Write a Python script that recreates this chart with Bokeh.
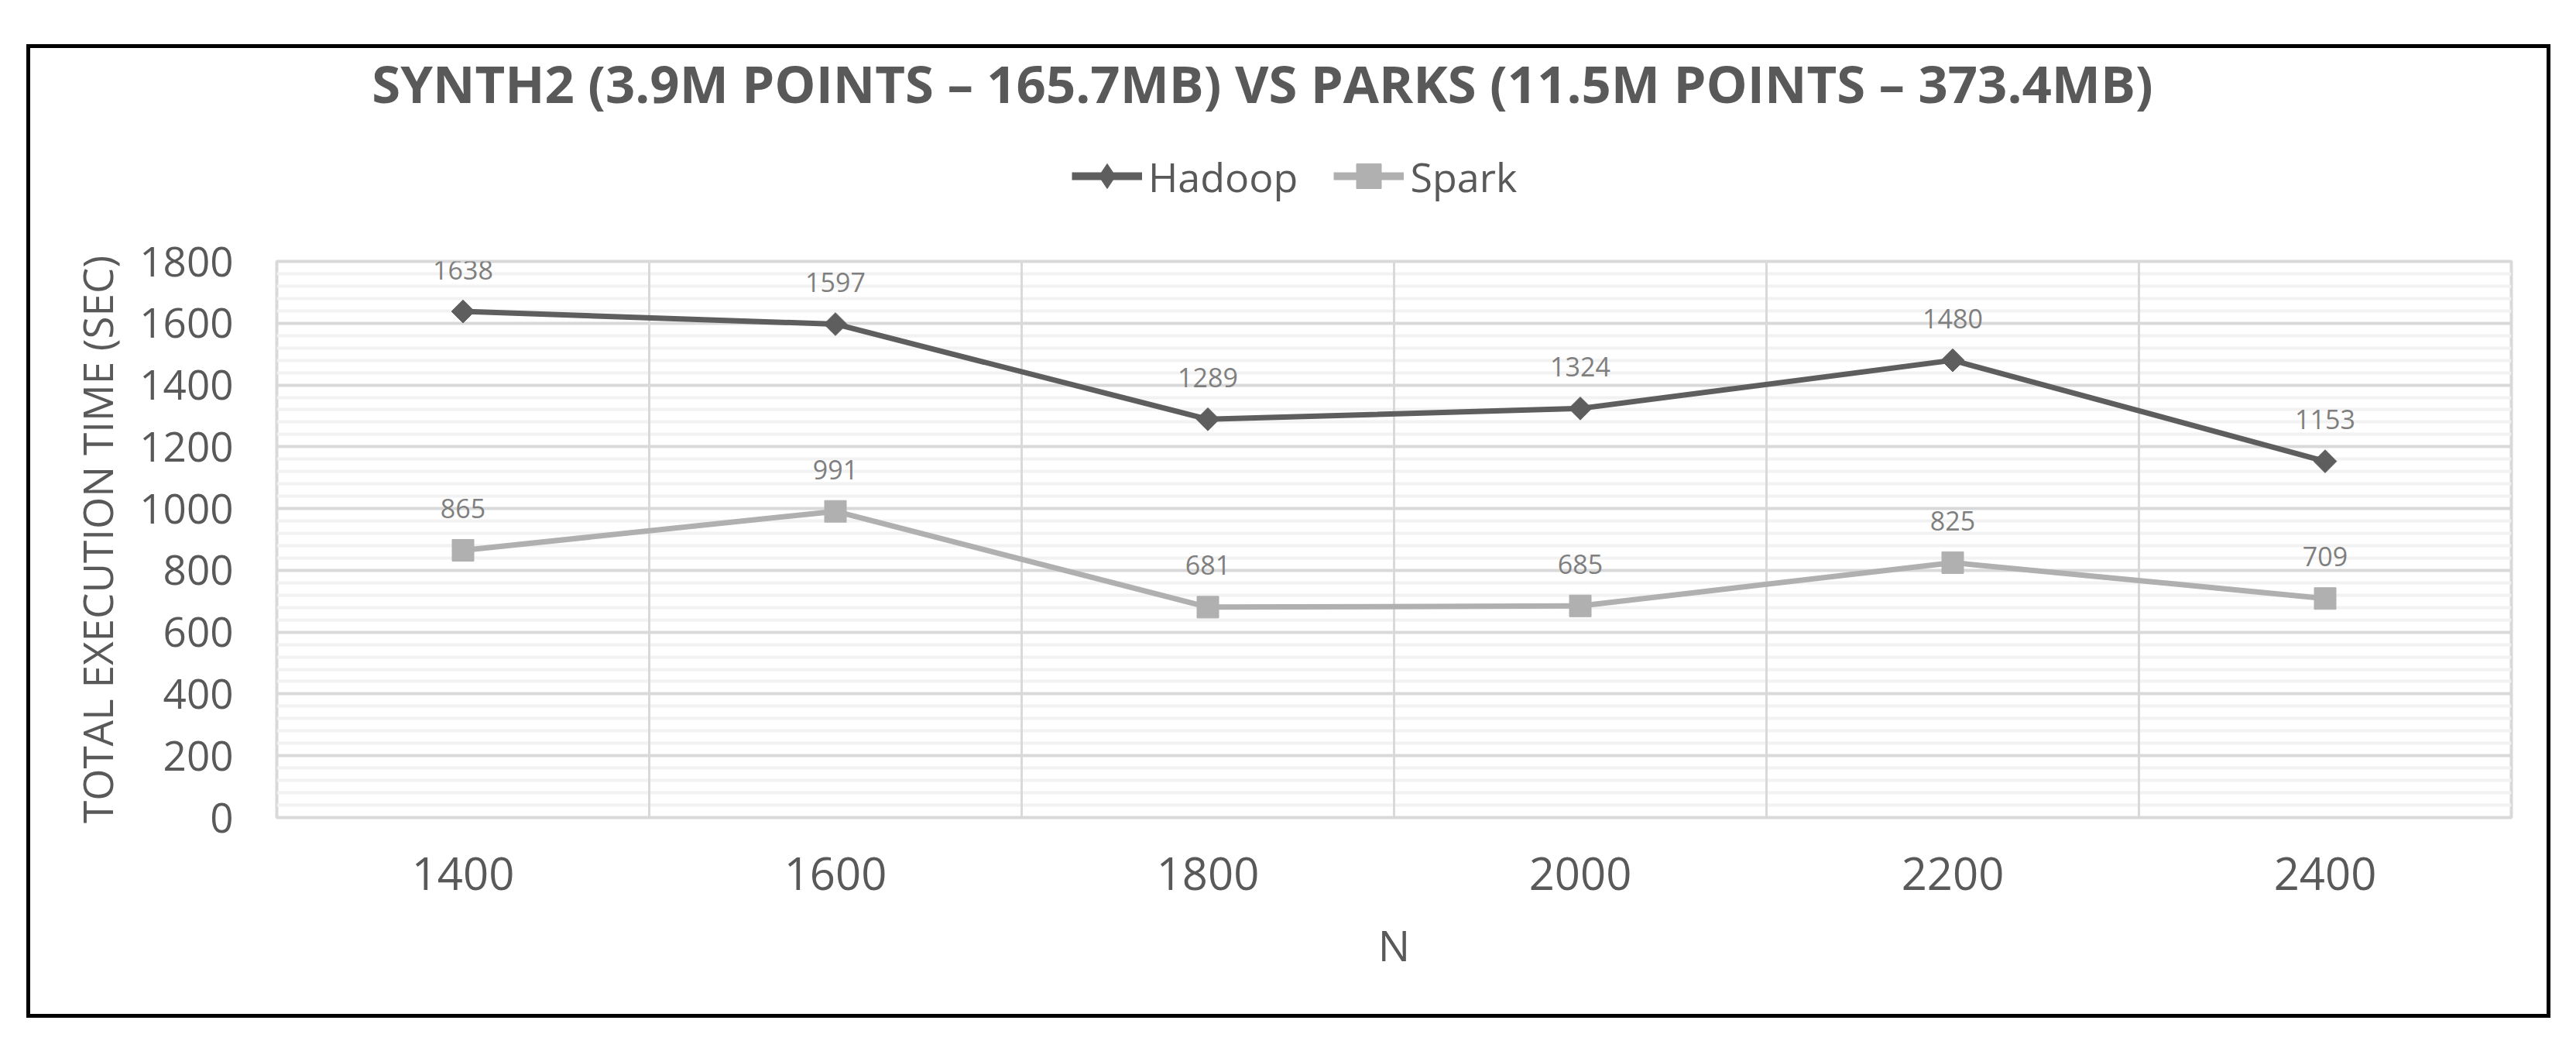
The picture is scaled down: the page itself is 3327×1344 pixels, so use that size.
import math
from bokeh.plotting import figure
from bokeh.models import (Range1d, FixedTicker, Grid, Legend, LegendItem, Label, Spacer)
from bokeh.layouts import row, column
from bokeh.core.properties import value
from bokeh.embed import file_html
from bokeh.resources import INLINE

# ---- data ----
N = [1400, 1600, 1800, 2000, 2200, 2400]
hadoop = [1638, 1597, 1289, 1324, 1480, 1153]
spark = [865, 991, 681, 685, 825, 709]
y_ticks = [0, 200, 400, 600, 800, 1000, 1200, 1400, 1600, 1800]
series_names = ["Hadoop", "Spark"]
title_text = "SYNTH2 (3.9M POINTS – 165.7MB) VS PARKS (11.5M POINTS – 373.4MB)"
x_title = "N"
y_title = "TOTAL EXECUTION TIME (SEC)"

HADOOP_C = "#5e5e5e"
SPARK_C = "#b0b0b0"
TEXT_C = "#595959"
LABEL_C = "#7f7f7f"
GRID_C = "#d9d9d9"
MINOR_C = "#f2f2f2"
FONT = "Open Sans"

minor = [v for v in range(0, 1801, 40) if v not in y_ticks]
bounds = [(a + b) / 2 for a, b in zip(N, N[1:])]
x_rng = (N[0] - 100, N[-1] + 100)
y_rng = (0, 1800)

# ================= header: title + legend =================
head = figure(width=3260, height=243, x_range=Range1d(*x_rng), y_range=Range1d(*y_rng),
              x_axis_location=None, y_axis_location=None,
              output_backend="svg", toolbar_location=None,
              min_border_left=0, min_border_right=0, min_border_top=0, min_border_bottom=0)
head.title_location = None
head.styles = {"border": "5px solid black", "border-bottom": "none"}
head.outline_line_color = None
head.grid.visible = False

hl = head.line(N, hadoop, line_width=10, color=HADOOP_C, visible=False)
hm = head.scatter(N, hadoop, marker="diamond", size=32, color=HADOOP_C, visible=False)
sl = head.line(N, spark, line_width=10, color=SPARK_C, visible=False)
sm = head.scatter(N, spark, marker="square", size=28, color=SPARK_C, visible=False)

lg = Legend(items=[LegendItem(label=series_names[0], renderers=[hl, hm]),
                   LegendItem(label=series_names[1], renderers=[sl, sm])],
            location=(1027, 38), orientation="horizontal")
lg.label_text_font = FONT
lg.label_text_font_size = "52px"
lg.label_text_color = TEXT_C
lg.glyph_width = 91
lg.glyph_height = 80
lg.label_height = 80
lg.label_standoff = 8
lg.spacing = 46
lg.padding = 0
lg.margin = 0
lg.border_line_color = None
lg.background_fill_alpha = 0
lg.inactive_fill_alpha = 0
head.add_layout(lg, "center")

head.add_layout(Label(x=1273, y=199, x_units="screen", y_units="screen",
                      text=title_text, text_align="center", text_baseline="middle",
                      text_font=FONT, text_font_style="bold", text_font_size="67px",
                      text_color=TEXT_C))

# ================= main chart =================
p = figure(width=3260, height=1014,
           x_range=Range1d(*x_rng), y_range=Range1d(*y_rng),
           output_backend="svg", toolbar_location=None,
           min_border_left=318, min_border_right=56,
           min_border_top=37, min_border_bottom=259)
p.title_location = None
p.styles = {"border": "5px solid black", "border-top": "none"}
p.outline_line_color = GRID_C
p.outline_line_width = 4

p.xaxis.ticker = FixedTicker(ticks=N)
p.yaxis.ticker = FixedTicker(ticks=y_ticks, minor_ticks=minor)
for ax in (p.xaxis, p.yaxis):
    ax.axis_line_color = None
    ax.major_tick_line_color = None
    ax.minor_tick_line_color = None
    ax.major_label_text_font = FONT
    ax.major_label_text_color = TEXT_C
    ax.axis_label_text_font = FONT
    ax.axis_label_text_color = TEXT_C
    ax.axis_label_text_font_style = "normal"
p.xaxis.major_label_text_font_size = "58px"
p.yaxis.major_label_text_font_size = "53px"
p.xaxis.major_label_standoff = 45
p.yaxis.major_label_standoff = 50
p.xaxis.axis_label = x_title
p.yaxis.axis_label = y_title
p.xaxis.axis_label_text_font_size = "55px"
p.yaxis.axis_label_text_font_size = "53px"
p.xaxis.axis_label_standoff = 30
p.yaxis.axis_label_standoff = 15

p.xgrid.visible = False
p.ygrid.grid_line_color = GRID_C
p.ygrid.grid_line_width = 4
p.ygrid.minor_grid_line_color = MINOR_C
p.ygrid.minor_grid_line_width = 4
p.add_layout(Grid(dimension=0, ticker=FixedTicker(ticks=bounds),
                  grid_line_color=GRID_C, grid_line_width=3))

p.line(N, hadoop, line_width=7, color=HADOOP_C)
p.scatter(N, hadoop, marker="square", angle=math.pi / 4, size=21, color=HADOOP_C)
p.line(N, spark, line_width=7, color=SPARK_C)
p.scatter(N, spark, marker="square", size=28, color=SPARK_C)

p.text(N, hadoop, text=[str(v) for v in hadoop], text_align="center",
       text_baseline="middle", y_offset=-54, text_font=value(FONT),
       text_font_size="34px", text_color=LABEL_C)
p.text(N, spark, text=[str(v) for v in spark], text_align="center",
       text_baseline="middle", y_offset=-54, text_font=value(FONT),
       text_font_size="34px", text_color=LABEL_C)

root = column(Spacer(height=57), row(Spacer(width=34), column(head, p)))
open("out.html", "w").write(file_html(root, INLINE))
